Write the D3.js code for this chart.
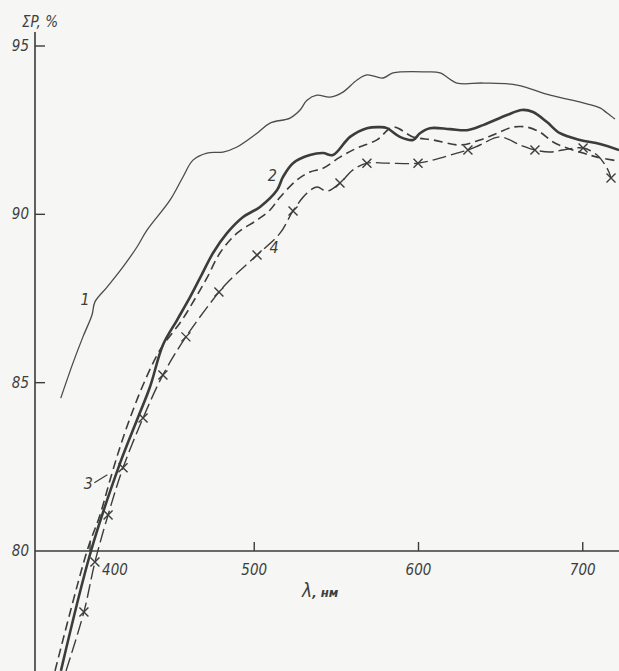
<!DOCTYPE html>
<html>
<head>
<meta charset="utf-8">
<script src="https://cdn.jsdelivr.net/npm/d3@7"></script>
<style>
  html, body { margin: 0; padding: 0; background: #f6f6f4; }
  svg { display: block; }
  text { font-family: "Liberation Sans Narrow", "DejaVu Sans Condensed", "Liberation Sans", sans-serif; font-style: italic; fill: #3c3f3c; }
</style>
</head>
<body>
<script>
// Wavelength (nm) and total reflectance ΣP (%) for the four samples
const curve1 = [
  [382.2, 84.54], [389.6, 85.58], [395.7, 86.36], [401.2, 87.01], [403.0, 87.40],
  [410.4, 87.84], [420.1, 88.44], [428.6, 89.03], [434.7, 89.53], [448.7, 90.42],
  [456.6, 91.11], [462.7, 91.61], [471.2, 91.82], [481.0, 91.85], [489.5, 92.00],
  [501.7, 92.41], [509.6, 92.71], [521.8, 92.86], [527.9, 93.10], [532.1, 93.39],
  [538.2, 93.54], [546.1, 93.48], [554.0, 93.63], [562.6, 93.99], [568.6, 94.14],
  [578.4, 94.05], [584.5, 94.20], [605.2, 94.23], [613.1, 94.20], [623.4, 93.90],
  [639.3, 93.90], [660.0, 93.84], [680.1, 93.54], [700.2, 93.31], [710.5, 93.16],
  [714.8, 93.01], [719.6, 92.83]
];
const curve2 = [
  [382.3, 76.44], [400.6, 80.00], [418.3, 82.61], [428.6, 83.89], [436.5, 84.87],
  [444.4, 86.12], [453.0, 86.86], [460.9, 87.54], [467.0, 88.11], [474.9, 88.85],
  [483.4, 89.44], [493.2, 89.92], [503.5, 90.22], [513.9, 90.72], [517.5, 91.11],
  [523.6, 91.52], [533.9, 91.76], [541.9, 91.82], [547.9, 91.76], [558.3, 92.30],
  [568.6, 92.56], [576.6, 92.59], [580.8, 92.56], [588.7, 92.30], [596.7, 92.21],
  [600.9, 92.41], [607.0, 92.56], [619.2, 92.53], [629.5, 92.50], [639.3, 92.65],
  [653.9, 92.95], [663.0, 93.10], [669.7, 93.04], [678.2, 92.74], [686.1, 92.41],
  [698.3, 92.21], [710.5, 92.09], [722.1, 91.91]
];
const curve3 = [
  [378.7, 76.44], [398.2, 80.00], [406.1, 81.07], [412.2, 82.11], [418.3, 83.09],
  [424.4, 83.95], [432.3, 84.93], [442.6, 85.97], [456.0, 86.86], [464.5, 87.54],
  [471.2, 88.11], [479.1, 88.85], [489.5, 89.44], [501.7, 89.83], [509.6, 90.13],
  [515.7, 90.51], [526.0, 91.02], [533.9, 91.26], [541.9, 91.37], [552.2, 91.70],
  [562.6, 91.97], [574.7, 92.21], [584.5, 92.59], [596.7, 92.30], [608.8, 92.21],
  [625.3, 92.06], [637.4, 92.21], [647.8, 92.41], [657.5, 92.59], [666.1, 92.59],
  [674.0, 92.44], [681.9, 92.15], [690.4, 91.97], [700.2, 91.82], [708.7, 91.70],
  [722.1, 91.58]
];
// third field: 1 where a measured point is marked with a cross
const curve4 = [
  [385.4, 76.44, 0], [396.3, 78.19, 1], [403.0, 79.67, 1], [411.0, 81.07, 1],
  [420.1, 82.47, 1], [432.3, 83.95, 1], [444.4, 85.23, 1], [458.4, 86.36, 1],
  [478.5, 87.69, 1], [485.2, 88.05, 0], [501.7, 88.79, 1], [515.7, 89.44, 0],
  [523.6, 90.10, 1], [532.1, 90.63, 0], [538.2, 90.81, 0], [544.3, 90.69, 0],
  [552.2, 90.93, 1], [560.1, 91.32, 0], [568.6, 91.52, 1], [580.8, 91.52, 0],
  [599.7, 91.52, 1], [613.1, 91.67, 0], [623.4, 91.82, 0], [630.1, 91.91, 1],
  [637.4, 92.06, 0], [649.6, 92.30, 0], [661.8, 92.06, 0], [670.9, 91.91, 1],
  [680.1, 91.85, 0], [688.0, 91.91, 0], [700.2, 91.97, 1], [708.7, 91.76, 0],
  [714.8, 91.37, 0], [717.2, 91.08, 1]
];
const xTicks = [400, 500, 600, 700];
const yTicks = [80, 85, 90, 95];
const curveLabels = [
  { text: "1", lam: 397.0, val: 87.3 },
  { text: "2", lam: 511.0, val: 91.0 },
  { text: "3", lam: 399.0, val: 81.85 },
  { text: "4", lam: 512.0, val: 88.85 }
];

const W = 619, H = 671;
const svg = d3.select("body").append("svg").attr("width", W).attr("height", H);

const x = d3.scaleLinear().domain([400, 700]).range([90, 582.75]);
const y = d3.scaleLinear().domain([80, 95]).range([551, 46]);
const ink = "#3a3d3a";

// axes
const ax = x.invert(35);
svg.append("line").attr("x1", 35).attr("x2", 35).attr("y1", 32).attr("y2", H)
  .attr("stroke", ink).attr("stroke-width", 1.6);
svg.append("line").attr("x1", 35).attr("x2", W).attr("y1", y(80)).attr("y2", y(80))
  .attr("stroke", ink).attr("stroke-width", 1.6);

yTicks.filter(d => d !== 80).forEach(d => {
  svg.append("line").attr("x1", 35).attr("x2", 45).attr("y1", y(d)).attr("y2", y(d))
    .attr("stroke", ink).attr("stroke-width", 1.4);
});
yTicks.forEach(d => {
  svg.append("text").attr("x", 29).attr("y", y(d) + 5).attr("text-anchor", "end")
    .attr("font-size", 15).text(d);
});
xTicks.forEach(d => {
  svg.append("line").attr("x1", x(d)).attr("x2", x(d)).attr("y1", y(80)).attr("y2", y(80) - 9)
    .attr("stroke", ink).attr("stroke-width", 1.4);
  svg.append("text").attr("x", d === 400 ? x(d) + 25 : x(d)).attr("y", y(80) + 24)
    .attr("text-anchor", "middle").attr("font-size", 15).text(d);
});

// axis titles
const yt = svg.append("text").attr("x", 22).attr("y", 27).attr("font-size", 15);
yt.append("tspan").text("ΣP, %");
const xt = svg.append("text").attr("x", 302).attr("y", 597);
xt.append("tspan").attr("font-size", 19).text("λ");
xt.append("tspan").attr("font-size", 13).attr("font-weight", "bold").text(", нм");

// curves
const line = d3.line().x(d => x(d[0])).y(d => y(d[1])).curve(d3.curveCatmullRom.alpha(0.5));
const plot = svg.append("g");

plot.append("path").datum(curve1).attr("d", line).attr("fill", "none")
  .attr("stroke", "#4a4d4a").attr("stroke-width", 1.3);
plot.append("path").datum(curve2).attr("d", line).attr("fill", "none")
  .attr("stroke", ink).attr("stroke-width", 2.6);
plot.append("path").datum(curve3).attr("d", line).attr("fill", "none")
  .attr("stroke", ink).attr("stroke-width", 1.6).attr("stroke-dasharray", "9,5");
plot.append("path").datum(curve4).attr("d", line).attr("fill", "none")
  .attr("stroke", ink).attr("stroke-width", 1.4).attr("stroke-dasharray", "14,5");

// crosses on curve 4
const s = 4.5;
plot.selectAll("path.mark").data(curve4.filter(d => d[2] === 1)).join("path")
  .attr("class", "mark")
  .attr("d", d => {
    const cx = x(d[0]), cy = y(d[1]);
    return `M${cx - s},${cy - s}L${cx + s},${cy + s}M${cx - s},${cy + s}L${cx + s},${cy - s}`;
  })
  .attr("stroke", ink).attr("stroke-width", 1.4);

// curve numbers
curveLabels.forEach(l => {
  svg.append("text").attr("x", x(l.lam)).attr("y", y(l.val)).attr("text-anchor", "middle")
    .attr("font-size", 16).text(l.text);
});
// leader for label 3
const l3 = curveLabels[2];
svg.append("line").attr("x1", x(l3.lam) + 6).attr("y1", y(l3.val) - 6)
  .attr("x2", x(l3.lam) + 19).attr("y2", y(l3.val) - 14)
  .attr("stroke", ink).attr("stroke-width", 1.2);
</script>
</body>
</html>
